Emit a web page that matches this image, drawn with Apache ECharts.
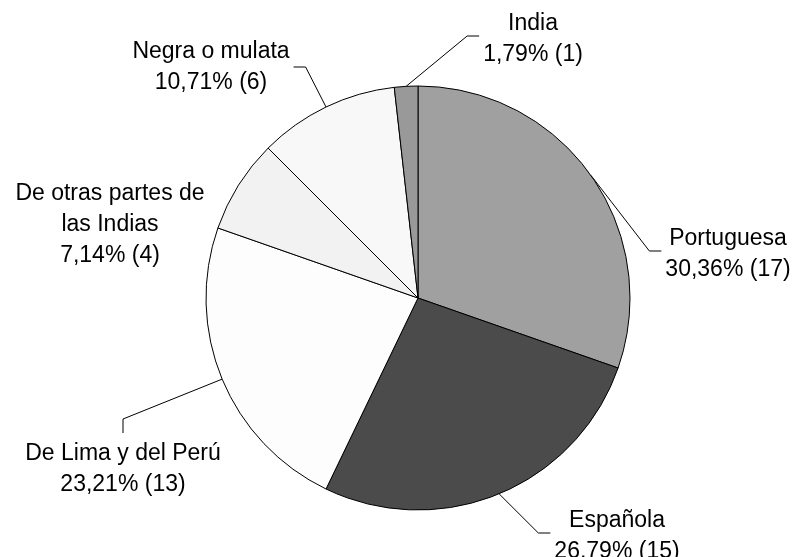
<!DOCTYPE html>
<html>
<head>
<meta charset="utf-8">
<script src="https://cdn.jsdelivr.net/npm/echarts@6/dist/echarts.min.js"></script>
<style>
html, body { margin: 0; padding: 0; background: #fff; }
#chart { width: 796px; height: 557px; }
</style>
</head>
<body>
<div id="chart"></div>
<script>
// categorias y valores (conteo)
var categorias = ['Portuguesa', 'Española', 'De Lima y del Perú', 'De otras partes de\nlas Indias', 'Negra o mulata', 'India'];
var valores = [17, 15, 13, 4, 6, 1];
var colores = ['#a0a0a0', '#4b4b4b', '#fdfdfd', '#f2f2f2', '#f8f8f8', '#999999'];

// posicion de cada etiqueta (centro del texto) y lado por el que llega la linea
var etiquetas = [
    { x: 728, y: 254, lado: 'left' },
    { x: 617, y: 536, lado: 'left' },
    { x: 123, y: 469, lado: 'top' },
    { x: 110, y: 225, lado: null },
    { x: 211, y: 67, lado: 'right' },
    { x: 533, y: 39, lado: 'left' }
];

var chart = echarts.init(document.getElementById('chart'), null, { renderer: 'canvas' });

var datos = categorias.map(function (c, i) {
    var item = {
        name: c,
        value: valores[i],
        itemStyle: { color: colores[i] }
    };
    if (!etiquetas[i].lado) {
        item.labelLine = { show: false };
    }
    return item;
});

var option = {
    animation: false,
    series: [
        {
            type: 'pie',
            center: [418, 298],
            radius: 212,
            startAngle: 90,
            clockwise: true,
            avoidLabelOverlap: false,
            itemStyle: { borderColor: '#000', borderWidth: 1 },
            emphasis: { disabled: true },
            label: {
                show: true,
                position: 'outside',
                color: '#000',
                fontFamily: '"Liberation Sans", Arial, sans-serif',
                fontSize: 23,
                lineHeight: 31,
                align: 'center',
                formatter: function (p) {
                    var pct = p.percent.toFixed(2).replace('.', ',');
                    return p.name + '\n' + pct + '% (' + p.value + ')';
                }
            },
            labelLine: {
                show: true,
                length: 10,
                length2: 10,
                lineStyle: { color: '#000', width: 1 }
            },
            labelLayout: function (params) {
                var e = etiquetas[params.dataIndex];
                var w = params.labelRect.width;
                var h = params.labelRect.height;
                var res = { x: e.x, y: e.y, align: 'center', verticalAlign: 'middle' };
                var pts = params.labelLinePoints;
                if (e.lado && pts) {
                    var ancla = pts[0];
                    var fin, codo;
                    if (e.lado === 'left') {
                        fin = [e.x - w / 2 - 4, e.y - 3];
                        codo = [fin[0] - 12, fin[1]];
                    } else if (e.lado === 'right') {
                        fin = [e.x + w / 2 + 4, e.y];
                        codo = [fin[0] + 12, fin[1]];
                    } else {
                        fin = [e.x, e.y - h / 2 - 5];
                        codo = [fin[0], fin[1] - 14];
                    }
                    res.labelLinePoints = [ancla, codo, fin];
                }
                return res;
            },
            data: datos
        }
    ]
};

chart.setOption(option);
</script>
</body>
</html>
